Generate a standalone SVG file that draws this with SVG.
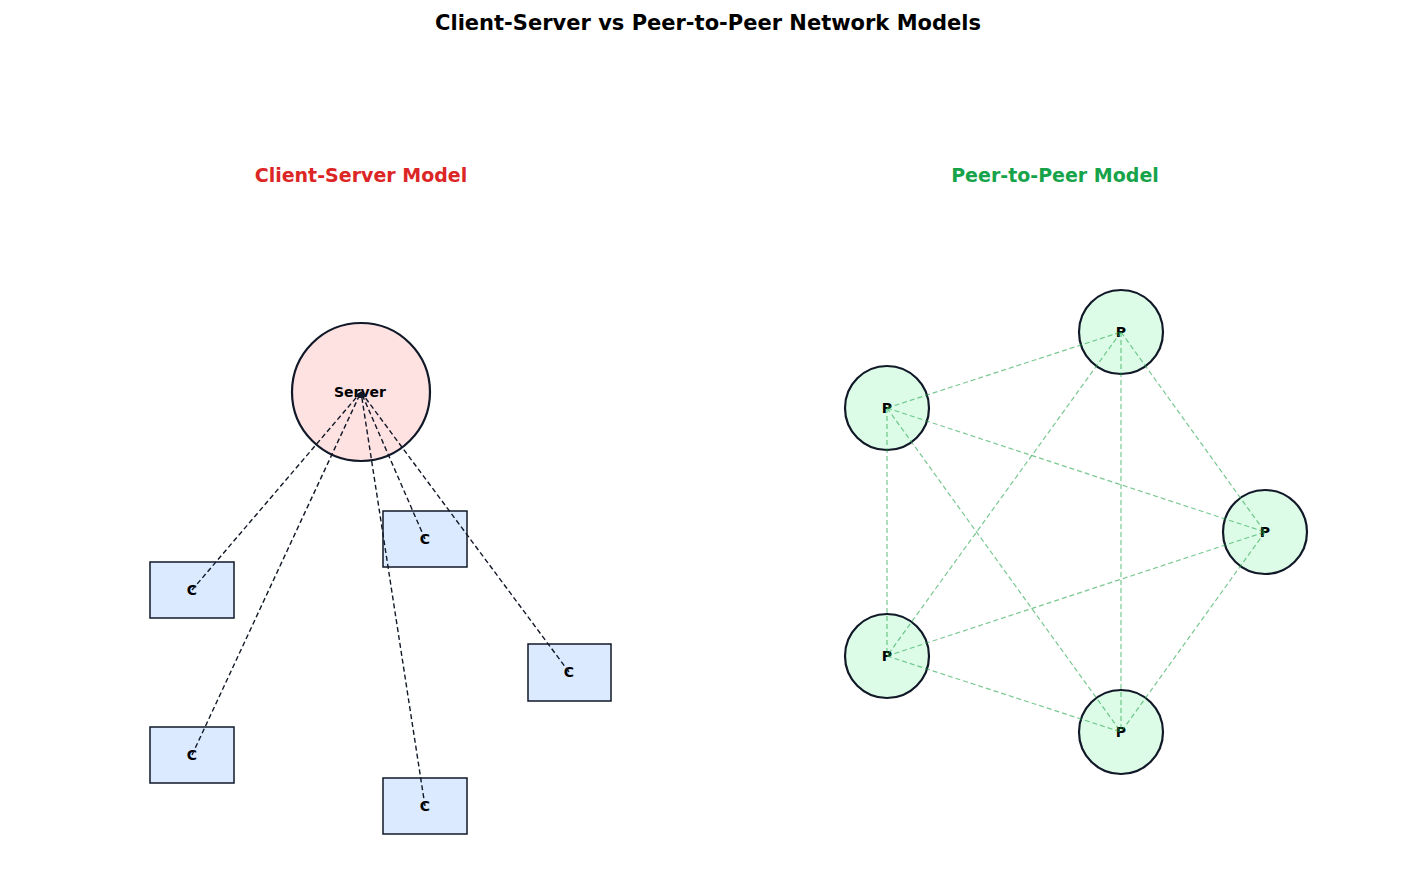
<svg xmlns="http://www.w3.org/2000/svg" width="1417" height="896" viewBox="0 0 1417 896">
<style>
text{font-family:"DejaVu Sans",sans-serif;font-weight:bold;text-anchor:middle;dominant-baseline:central}
.c rect{fill:#dbeafe;stroke:#111827;stroke-width:1.5}
.c text,.p text{font-size:14px;fill:#000}
.p circle{fill:#dcfce7;stroke:#111827;stroke-width:2.2}
.cs{stroke:#111827;stroke-width:1.4;stroke-dasharray:5,3;fill:none;marker-end:url(#ah)}
.pp{stroke:#22a34a;stroke-opacity:0.6;stroke-width:1.2;stroke-dasharray:5,3}
</style>
<defs><marker id="ah" viewBox="0 0 10 10" refX="10" refY="5" markerWidth="6" markerHeight="6" orient="auto" markerUnits="userSpaceOnUse"><path d="M0,0L10,5L0,10z" fill="#111827"/></marker></defs>
<rect width="1417" height="896" fill="#fff"/>
<text x="708" y="23" font-size="21" fill="#000">Client-Server vs Peer-to-Peer Network Models</text>
<text x="361" y="175" font-size="19" fill="#dc2626">Client-Server Model</text>
<text x="1055" y="175" font-size="19" fill="#16a34a">Peer-to-Peer Model</text>
<g id="server"><circle cx="361" cy="392" r="69" fill="#fee2e2" stroke="#111827" stroke-width="2.2"/><text x="360" y="392" font-size="14">Server</text></g>
<g id="c1" class="c"><rect x="150" y="562" width="84" height="56"/><text x="192" y="590">C</text></g>
<g id="c2" class="c"><rect x="383" y="511" width="84" height="56"/><text x="425" y="539">C</text></g>
<g id="c3" class="c"><rect x="528" y="644" width="83" height="57"/><text x="569" y="672">C</text></g>
<g id="c4" class="c"><rect x="150" y="727" width="84" height="56"/><text x="192" y="755">C</text></g>
<g id="c5" class="c"><rect x="383" y="778" width="84" height="56"/><text x="425" y="806">C</text></g>
<g id="p1" class="p"><circle cx="1121" cy="332" r="42"/><text x="1121" y="332">P</text></g>
<g id="p2" class="p"><circle cx="887" cy="408" r="42"/><text x="887" y="408">P</text></g>
<g id="p3" class="p"><circle cx="1265" cy="532" r="42"/><text x="1265" y="532">P</text></g>
<g id="p4" class="p"><circle cx="887" cy="656" r="42"/><text x="887" y="656">P</text></g>
<g id="p5" class="p"><circle cx="1121" cy="732" r="42"/><text x="1121" y="732">P</text></g>
<g id="connectors">
<line class="cs" x1="192" y1="590" x2="361" y2="392"/>
<line class="cs" x1="425" y1="539" x2="361" y2="392"/>
<line class="cs" x1="569" y1="672" x2="361" y2="392"/>
<line class="cs" x1="192" y1="755" x2="361" y2="392"/>
<line class="cs" x1="425" y1="806" x2="361" y2="392"/>
<line class="pp" x1="887" y1="408" x2="1121" y2="332"/>
<line class="pp" x1="1121" y1="332" x2="887" y2="656"/>
<line class="pp" x1="1121" y1="332" x2="1121" y2="732"/>
<line class="pp" x1="1121" y1="332" x2="1265" y2="532"/>
<line class="pp" x1="887" y1="408" x2="1265" y2="532"/>
<line class="pp" x1="887" y1="408" x2="887" y2="656"/>
<line class="pp" x1="887" y1="408" x2="1121" y2="732"/>
<line class="pp" x1="887" y1="656" x2="1265" y2="532"/>
<line class="pp" x1="887" y1="656" x2="1121" y2="732"/>
<line class="pp" x1="1265" y1="532" x2="1121" y2="732"/>
</g>
</svg>
